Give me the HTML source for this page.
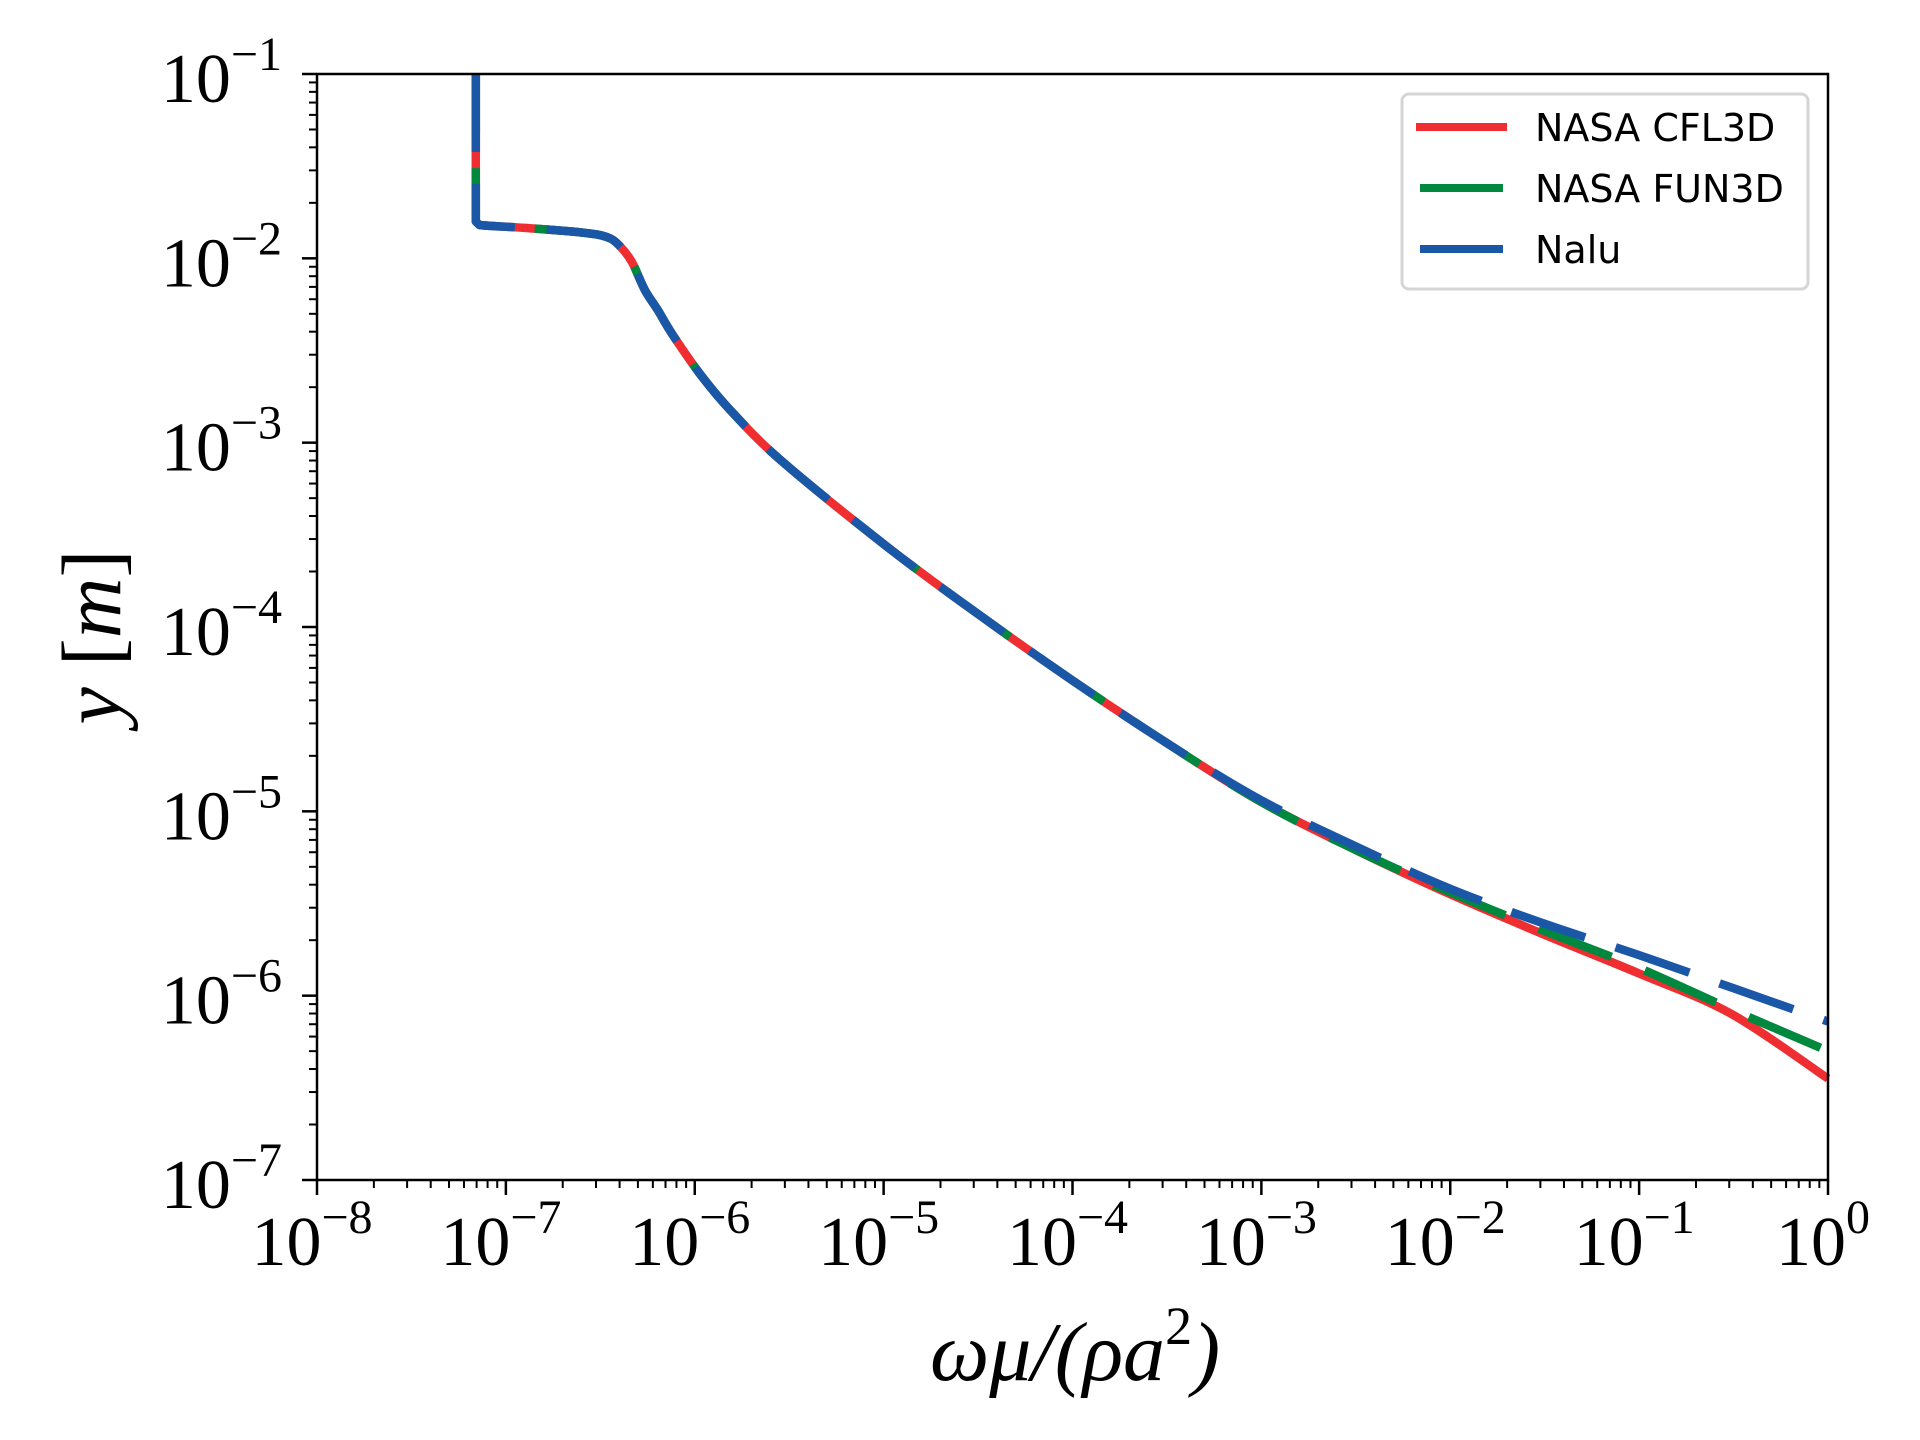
<!DOCTYPE html>
<html><head><meta charset="utf-8">
<style>
html,body{margin:0;padding:0;background:#fff;}
svg{display:block;}
text{font-family:"Liberation Serif","DejaVu Serif",serif;fill:#000;}
.leg{font-family:"DejaVu Sans","Liberation Sans",sans-serif;font-size:38px;}
</style></head>
<body>
<svg id="chart" width="1920" height="1440" viewBox="0 0 1920 1440" xmlns="http://www.w3.org/2000/svg">
  <g id="series"></g>
  <g id="axes"></g>
  <rect x="317" y="74" width="1511" height="1106" fill="none" stroke="#000" stroke-width="2.5"/>
  <g>
    <rect x="1402" y="94" width="406" height="195" rx="7" fill="#fff" fill-opacity="0.8" stroke="#d5d5d5" stroke-width="3"/>
    <g>
      <line x1="1416" y1="127" x2="1507" y2="127" stroke="#ee2e31" stroke-width="8"/>
      <text class="leg" x="1535" y="141">NASA CFL3D</text>
    </g>
    <g>
      <line x1="1420" y1="188" x2="1503" y2="188" stroke="#00883f" stroke-width="8"/>
      <text class="leg" x="1535" y="202">NASA FUN3D</text>
    </g>
    <g>
      <line x1="1420" y1="249" x2="1503" y2="249" stroke="#1a57a6" stroke-width="8"/>
      <text class="leg" x="1535" y="263">Nalu</text>
    </g>
  </g>
  <text x="1075" y="1380" text-anchor="middle" font-size="84" font-style="italic">ωμ/(ρa<tspan font-style="normal" font-size="54" dy="-36">2</tspan><tspan dy="36">)</tspan></text>
  <text transform="translate(120,637) rotate(-90)" text-anchor="middle" font-size="84"><tspan font-style="italic">y</tspan> [<tspan font-style="italic">m</tspan>]</text>
</svg>
<script>
// ---- data (log10 values) ----
const cflX = [-7.159,-7.159,-7.14,-6.9,-6.6,-6.466,-6.40,-6.333,-6.265,-6.196,-6.116,-5.97,-5.815,-5.55,-5.0,-4.5,-4.0,-3.5,-3.0,-2.5,-2.0,-1.5,-1.0,-0.51,0];
const cflY = [-1.0,-1.80,-1.819,-1.835,-1.86,-1.884,-1.93,-2.02,-2.17,-2.28,-2.416,-2.63,-2.82,-3.09,-3.55,-3.93,-4.29,-4.63,-4.95,-5.21,-5.45,-5.67,-5.88,-6.10,-6.45];
const funX = [-7.159,-7.159,-7.14,-6.9,-6.6,-6.466,-6.40,-6.333,-6.265,-6.196,-6.116,-5.97,-5.815,-5.55,-5.0,-4.5,-4.0,-3.5,-3.0,-2.5,-2.0,-1.5,-1.0,-0.5,0];
const funY = [-1.0,-1.80,-1.819,-1.835,-1.86,-1.884,-1.93,-2.02,-2.17,-2.28,-2.416,-2.63,-2.82,-3.09,-3.55,-3.93,-4.29,-4.63,-4.95,-5.21,-5.44,-5.65,-5.85,-6.08,-6.30];
const naluX = [-7.159,-7.159,-7.14,-6.9,-6.6,-6.466,-6.40,-6.333,-6.265,-6.196,-6.116,-5.97,-5.815,-5.55,-5.0,-4.5,-4.0,-3.5,-3.0,-2.5,-2.0,-1.5,-1.0,-0.5,0];
const naluY = [-1.0,-1.80,-1.819,-1.835,-1.86,-1.884,-1.93,-2.02,-2.17,-2.28,-2.416,-2.63,-2.82,-3.09,-3.55,-3.93,-4.29,-4.63,-4.94,-5.19,-5.42,-5.61,-5.78,-5.96,-6.14];
const xTickExp = [-8,-7,-6,-5,-4,-3,-2,-1,0];
const yTickExp = [-1,-2,-3,-4,-5,-6,-7];

const L=317,R=1828,T=74,B=1180;
const xs = v => L + (v - (-8)) / 8 * (R - L);
const ys = v => T + (-1 - v) / 6 * (B - T);
const NS="http://www.w3.org/2000/svg";
const axes=document.getElementById('axes'), ser=document.getElementById('series');
function mk(tag,attrs,parent){const e=document.createElementNS(NS,tag);for(const k in attrs)e.setAttribute(k,attrs[k]);parent.appendChild(e);return e;}

xTickExp.forEach(e=>{
  const x=xs(e);
  const t=mk('line',{x1:x,y1:B,x2:x,y2:B+15,stroke:'#000','stroke-width':2.5},axes);
  
  
  const lb=mk('text',{x:x-5,y:1265,'text-anchor':'middle','font-size':70},axes);
  
  
  lb.innerHTML='10<tspan font-size="48" dy="-32">'+(e<0?'−'+(-e):e)+'</tspan>';
  if(e<0){for(let m=2;m<=9;m++){const xm=xs(e+Math.log10(m));
    const mt=mk('line',{x1:xm,y1:B,x2:xm,y2:B+8,stroke:'#000','stroke-width':2},axes);
    
    }}
});
yTickExp.forEach(e=>{
  const y=ys(e);
  const t=mk('line',{x1:L-15,y1:y,x2:L,y2:y,stroke:'#000','stroke-width':2.5},axes);
  
  
  const lb=mk('text',{x:282,y:y+28,'text-anchor':'end','font-size':70},axes);
  
  
  lb.innerHTML='10<tspan font-size="48" dy="-32">−'+(-e)+'</tspan>';
  if(e>-7){for(let m=2;m<=9;m++){const ym=ys(e-1+Math.log10(m));
    const mt=mk('line',{x1:L-8,y1:ym,x2:L,y2:ym,stroke:'#000','stroke-width':2},axes);
    
    }}
});
function path(X,Y){
  const P=X.map((v,i)=>[xs(v),ys(Y[i])]);
  let d='M'+P[0][0].toFixed(1)+' '+P[0][1].toFixed(1);
  for(let i=0;i<P.length-1;i++){
    const p0=P[Math.max(0,i-1)],p1=P[i],p2=P[i+1],p3=P[Math.min(P.length-1,i+2)];
    const k=(i===0||i===1)?0:1/6;
    const c1=[p1[0]+(p2[0]-p0[0])*k,p1[1]+(p2[1]-p0[1])*k];
    const c2=[p2[0]-(p3[0]-p1[0])*k,p2[1]-(p3[1]-p1[1])*k];
    d+=' C'+c1[0].toFixed(1)+' '+c1[1].toFixed(1)+' '+c2[0].toFixed(1)+' '+c2[1].toFixed(1)+' '+p2[0].toFixed(1)+' '+p2[1].toFixed(1);
  }
  return d;
}
const p1=mk('path',{d:path(cflX,cflY),fill:'none',stroke:'#ee2e31','stroke-width':8.5,'stroke-linejoin':'round'},ser);


const p2=mk('path',{d:path(funX,funY),fill:'none',stroke:'#00883f','stroke-width':8.5,'stroke-dasharray':'78 36','stroke-dashoffset':'20','stroke-linejoin':'round'},ser);


const p3=mk('path',{d:path(naluX,naluY),fill:'none',stroke:'#1a57a6','stroke-width':8.5,'stroke-dasharray':'78 32','stroke-linejoin':'round'},ser);


</script>
</body></html>
